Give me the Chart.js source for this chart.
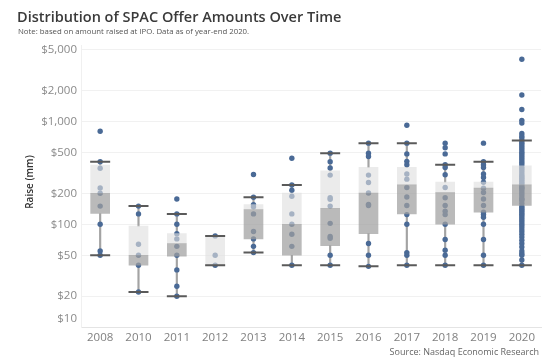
<!DOCTYPE html>
<html>
<head>
<meta charset="utf-8">
<script src="https://cdn.jsdelivr.net/npm/chart.js@4.4.1/dist/chart.umd.min.js"></script>
<style>
  html, body { margin: 0; padding: 0; background: #ffffff; }
  canvas { display: block; }
</style>
</head>
<body>
<canvas id="c" width="554" height="361"></canvas>
<script>
// ---- data ----
const years = ['2008','2010','2011','2012','2013','2014','2015','2016','2017','2018','2019','2020'];

const whiskerLow  = [50, 22, 20, 40, 53, 40, 40, 39, 40, 40, 40, 40];
const q1          = [127, 40, 49, 40, 72, 50, 62, 81, 126, 100, 131, 152];
const median      = [200, 50, 65, 40, 139, 100, 143, 201, 241, 203, 224, 241];
const q3          = [375, 96, 81, 77, 155, 201, 330, 356, 356, 256, 256, 368];
const whiskerHigh = [405, 150, 126, 77, 183, 241, 490, 613, 613, 378, 405, 651];

const pts2008 = [800, 405, 350, 225, 200, 150, 100, 55, 50];
const pts2010 = [150, 126, 64, 50, 40, 22];
const pts2011 = [176, 126, 100, 81, 72, 61, 50, 36, 25, 20];
const pts2012 = [77, 50, 40];
const pts2013 = [304, 183, 155, 148, 126, 85, 72, 61, 53];
const pts2014 = [437, 241, 214, 187, 126, 100, 80, 61, 40];
const pts2015 = [490, 405, 352, 300, 181, 175, 150, 102, 76, 73, 50, 40];
const pts2016 = [613, 490, 454, 300, 254, 201, 156, 152, 65, 50, 39];
const pts2017 = [914, 613, 482, 408, 378, 307, 274, 227, 184, 152, 124, 100, 53, 50, 40];
const pts2018 = [613, 552, 482, 378, 356, 302, 227, 181, 152, 134, 124, 100, 71, 56, 50, 40];
const pts2019 = [613, 405, 378, 356, 307, 285, 256, 224, 203, 176, 152, 131, 124, 117, 100, 71, 50, 40];
const pts2020 = [4000, 1800, 1300, 1020, 960, 760, 720, 690, 650, 620, 600, 575, 550, 525, 500, 480, 460,
                 440, 420, 400, 380, 360, 345, 330, 315, 300, 290, 280, 270, 260, 250, 240, 230, 225, 220,
                 210, 200, 190, 180, 175, 170, 160, 150, 145, 140, 135, 130, 125, 120, 115, 110, 105, 100,
                 95, 90, 85, 80, 75, 70, 65, 60, 55, 52, 50, 45, 40];
const pointsByYear = [pts2008, pts2010, pts2011, pts2012, pts2013, pts2014, pts2015, pts2016, pts2017, pts2018, pts2019, pts2020];

const yTickValues = [10, 20, 50, 100, 200, 500, 1000, 2000, 5000];
const yTickLabels = ['$10', '$20', '$50', '$100', '$200', '$500', '$1,000', '$2,000', '$5,000'];

const titleText = 'Distribution of SPAC Offer Amounts Over Time';
const subtitleText = 'Note: based on amount raised at IPO. Data as of year-end 2020.';
const yAxisTitle = 'Raise (mm)';
const sourceText = 'Source: Nasdaq Economic Research';

// ---- build datasets ----
const pointData = [];
pointsByYear.forEach((arr, i) => arr.forEach(v => pointData.push({x: years[i], y: v})));
const capData = [];
years.forEach((yr, i) => {
  capData.push({x: yr, y: whiskerLow[i]});
  capData.push({x: yr, y: whiskerHigh[i]});
});

const FONT = "'Open Sans', 'Noto Sans', sans-serif";

const textPlugin = {
  id: 'texts',
  afterDraw(chart) {
    const ctx = chart.ctx;
    const y = chart.scales.y;
    const area = chart.chartArea;
    ctx.save();
    // title
    ctx.textBaseline = 'alphabetic';
    ctx.textAlign = 'left';
    ctx.fillStyle = '#3a3a3a';
    ctx.font = "600 14.5px " + FONT;
    ctx.fillText(titleText, 17, 22);
    ctx.fillStyle = '#555555';
    ctx.font = "7.8px " + FONT;
    ctx.fillText(subtitleText, 18, 34);
    // y tick labels
    ctx.fillStyle = '#8a8a8a';
    ctx.font = "11.5px " + FONT;
    ctx.textAlign = 'right';
    ctx.textBaseline = 'middle';
    yTickValues.forEach((v, i) => {
      let py = y.getPixelForValue(v);
      py = Math.min(py, area.bottom - 8);
      ctx.fillText(yTickLabels[i], 77, py);
    });
    // y axis title
    ctx.save();
    ctx.translate(30, 182);
    ctx.rotate(-Math.PI / 2);
    ctx.textAlign = 'center';
    ctx.fillStyle = '#333333';
    ctx.font = "600 10px " + FONT;
    ctx.fillText(yAxisTitle, 0, 0);
    ctx.restore();
    // source
    ctx.textAlign = 'right';
    ctx.textBaseline = 'middle';
    ctx.fillStyle = '#666666';
    ctx.font = "9px " + FONT;
    ctx.fillText(sourceText, 539, 352);
    ctx.restore();
  }
};

new Chart(document.getElementById('c'), {
  type: 'bar',
  data: {
    labels: years,
    datasets: [
      {
        label: 'whisker low', data: years.map((_, i) => [whiskerLow[i], q1[i]]),
        backgroundColor: '#a3a3a3', barThickness: 1.5, grouped: false, order: 6
      },
      {
        label: 'whisker high', data: years.map((_, i) => [q3[i], whiskerHigh[i]]),
        backgroundColor: '#a3a3a3', barThickness: 1.5, grouped: false, order: 6
      },
      {
        type: 'line', label: 'points', data: pointData, showLine: false,
        pointRadius: 2.7, pointBackgroundColor: '#4a6a96', pointBorderWidth: 0,
        pointBorderColor: '#4a6a96', order: 5
      },
      {
        label: 'lower box', data: years.map((_, i) => [q1[i], median[i]]),
        backgroundColor: 'rgba(160,160,160,0.72)', barThickness: 19, grouped: false, order: 3
      },
      {
        label: 'upper box', data: years.map((_, i) => [median[i], q3[i]]),
        backgroundColor: 'rgba(222,222,222,0.62)', barThickness: 19, grouped: false, order: 3
      },
      {
        type: 'line', label: 'caps', data: capData, showLine: false,
        pointStyle: 'line', pointRadius: 10, pointBorderWidth: 2,
        pointBorderColor: '#5a5a5a', pointBackgroundColor: '#5a5a5a', order: 1
      }
    ]
  },
  options: {
    responsive: false,
    animation: false,
    layout: { padding: { top: 45, right: 13, bottom: 12, left: 0 } },
    plugins: { legend: { display: false }, tooltip: { enabled: false }, title: { display: false } },
    scales: {
      x: {
        grid: { display: false, drawTicks: false, tickLength: 0 },
        border: { color: '#e4e4e4' },
        ticks: { color: '#808080', font: { family: FONT, size: 11.5 }, padding: 4, maxRotation: 0 }
      },
      y: {
        type: 'logarithmic',
        min: 10, max: 5500,
        afterBuildTicks: s => { s.ticks = yTickValues.map(v => ({ value: v })); },
        afterFit: s => { s.width = 81; },
        ticks: { display: false },
        grid: { color: '#f1f1f1', drawTicks: false },
        border: { color: '#f0f0f0' }
      }
    }
  },
  plugins: [textPlugin]
});
</script>
</body>
</html>
